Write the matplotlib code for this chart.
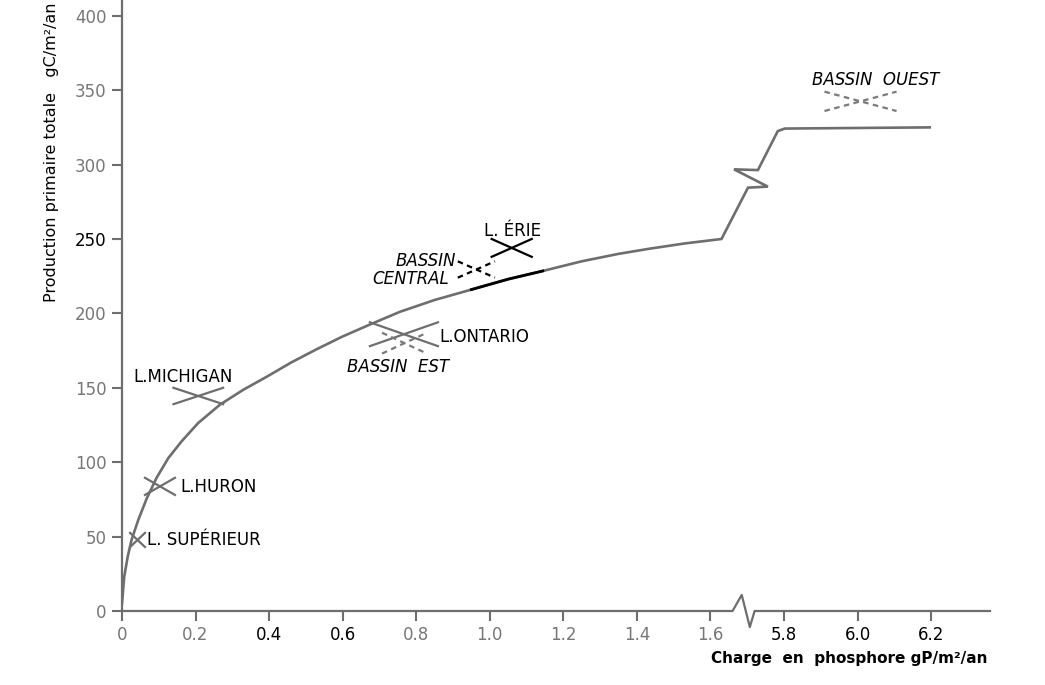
import numpy as np
import matplotlib.pyplot as plt

# positions on the drawn axis: 0..1.6 are real values, past the break
# position p stands for 5.8 + (p - 1.8)
tick_pos = [0.0, 0.2, 0.4, 0.6, 0.8, 1.0, 1.2, 1.4, 1.6, 1.8, 2.0, 2.2]
tick_labels = ["0", "0.2", "0.4", "0.6", "0.8", "1.0", "1.2", "1.4", "1.6", "5.8", "6.0", "6.2"]
ytick_vals = [0, 50, 100, 150, 200, 250, 300, 350, 400]

# main curve (incl. the break drawn into it)
curve_pos = [0.0, 0.006, 0.0155, 0.026, 0.044, 0.067, 0.094, 0.126, 0.162, 0.207,
             0.266, 0.33, 0.394, 0.46, 0.53, 0.6, 0.674, 0.755, 0.85, 0.95, 1.05,
             1.144, 1.25, 1.35, 1.435, 1.53, 1.63,
             1.702, 1.756, 1.664, 1.729, 1.783, 1.802, 2.0, 2.196]
curve_val = [5, 23, 36.5, 47.8, 61, 75.5, 89.5, 102.8, 114, 126.3,
             138.6, 148.7, 157.5, 167, 176, 184.5, 192.5, 201, 209, 216, 223,
             228.5, 235, 240, 243.5, 247, 250,
             284.5, 285.2, 296.8, 296.3, 322.5, 324.2, 324.6, 325]
n_low = 27
black_from, black_to = 0.95, 1.144

# lakes: ranges of loading (axis position) and production
lakes = ["L.SUPÉRIEUR", "L.HURON", "L.MICHIGAN", "L.ONTARIO", "BASSIN EST",
         "L.ÉRIE", "BASSIN CENTRAL", "BASSIN OUEST"]
x_lo = [0.022, 0.0625, 0.14, 0.674, 0.707, 1.005, 0.913, 1.91]
x_hi = [0.0625, 0.144, 0.275, 0.859, 0.829, 1.114, 1.014, 2.106]
y_lo = [43, 78, 139, 178, 173, 238, 224, 336]
y_hi = [52.5, 89.5, 150, 194, 187, 250, 235, 349]
cross_color = ["#6e6e6e", "#6e6e6e", "#6e6e6e", "#6e6e6e", "#7a7a7a",
               "black", "black", "#7a7a7a"]
cross_dash = [False, False, False, False, True, False, True, True]

gray = "#6e6e6e"

fig = plt.figure(figsize=(10.45, 6.85), dpi=100)
ax = fig.add_axes([122 / 1045, 74 / 685, 868 / 1045, 611 / 685])
ax.set_xlim(0, 2.36)
ax.set_ylim(0, 410.6)

# curve
ax.plot(curve_pos, curve_val, color=gray, lw=1.9, solid_joinstyle="miter")
cp = np.array(curve_pos[:n_low])
cv = np.array(curve_val[:n_low])
m = (cp >= black_from) & (cp <= black_to)
ax.plot(cp[m], cv[m], color="black", lw=2.0)

# crosses
for i in range(len(lakes)):
    kw = dict(color=cross_color[i], lw=1.6)
    if cross_dash[i]:
        kw["dashes"] = (2.5, 2)
    ax.plot([x_lo[i], x_hi[i]], [y_hi[i], y_lo[i]], **kw)
    ax.plot([x_lo[i], x_hi[i]], [y_lo[i], y_hi[i]], **kw)

# labels for the lakes
fs = 12
ax.text(0.068, 47.8, "L. SUPÉRIEUR", fontsize=fs, va="center", ha="left")
ax.text(0.158, 83.4, "L.HURON", fontsize=fs, va="center", ha="left")
ax.text(0.03, 157.5, "L.MICHIGAN", fontsize=fs, va="center", ha="left")
ax.text(0.864, 184.4, "L.ONTARIO", fontsize=fs, va="center", ha="left")
ax.text(0.611, 164.2, "BASSIN  EST", fontsize=fs, va="center", ha="left", style="italic")
ax.text(0.984, 255.7, "L. ÉRIE", fontsize=fs, va="center", ha="left")
ax.text(0.907, 235, "BASSIN", fontsize=fs, va="center", ha="right", style="italic")
ax.text(0.888, 223.4, "CENTRAL", fontsize=fs, va="center", ha="right", style="italic")
ax.text(1.875, 356.7, "BASSIN  OUEST", fontsize=fs, va="center", ha="left", style="italic")

# axes
for s in ["top", "right", "bottom"]:
    ax.spines[s].set_visible(False)
ax.spines["left"].set_color(gray)
ax.spines["left"].set_linewidth(1.6)
ax.plot([0, 1.66, 1.685, 1.707, 1.72, 2.36], [0, 0, 10.8, -10.8, 0, 0],
        color=gray, lw=1.6, clip_on=False)

ax.set_xticks(tick_pos)
ax.set_xticklabels(tick_labels)
ax.set_yticks(ytick_vals)
ax.tick_params(direction="out", length=7, width=1.5, color=gray, labelsize=12, pad=4)
xcol = ["#777", "#777", "black", "black", "#777", "#777", "#777", "#777", "#777",
        "black", "black", "black"]
for t, c in zip(ax.get_xticklabels(), xcol):
    t.set_color(c)
for t, v in zip(ax.get_yticklabels(), ytick_vals):
    t.set_color("black" if v == 250 else "#777")

fig.text(52 / 1045, 1 - 152 / 685, "Production primaire totale   gC/m²/an",
         rotation=90, ha="center", va="center", fontsize=11.5)
fig.text(849 / 1045, 1 - 658 / 685, "Charge  en  phosphore gP/m²/an",
         ha="center", va="center", fontsize=11, fontweight="bold")

fig.savefig("out.png", dpi=100)
